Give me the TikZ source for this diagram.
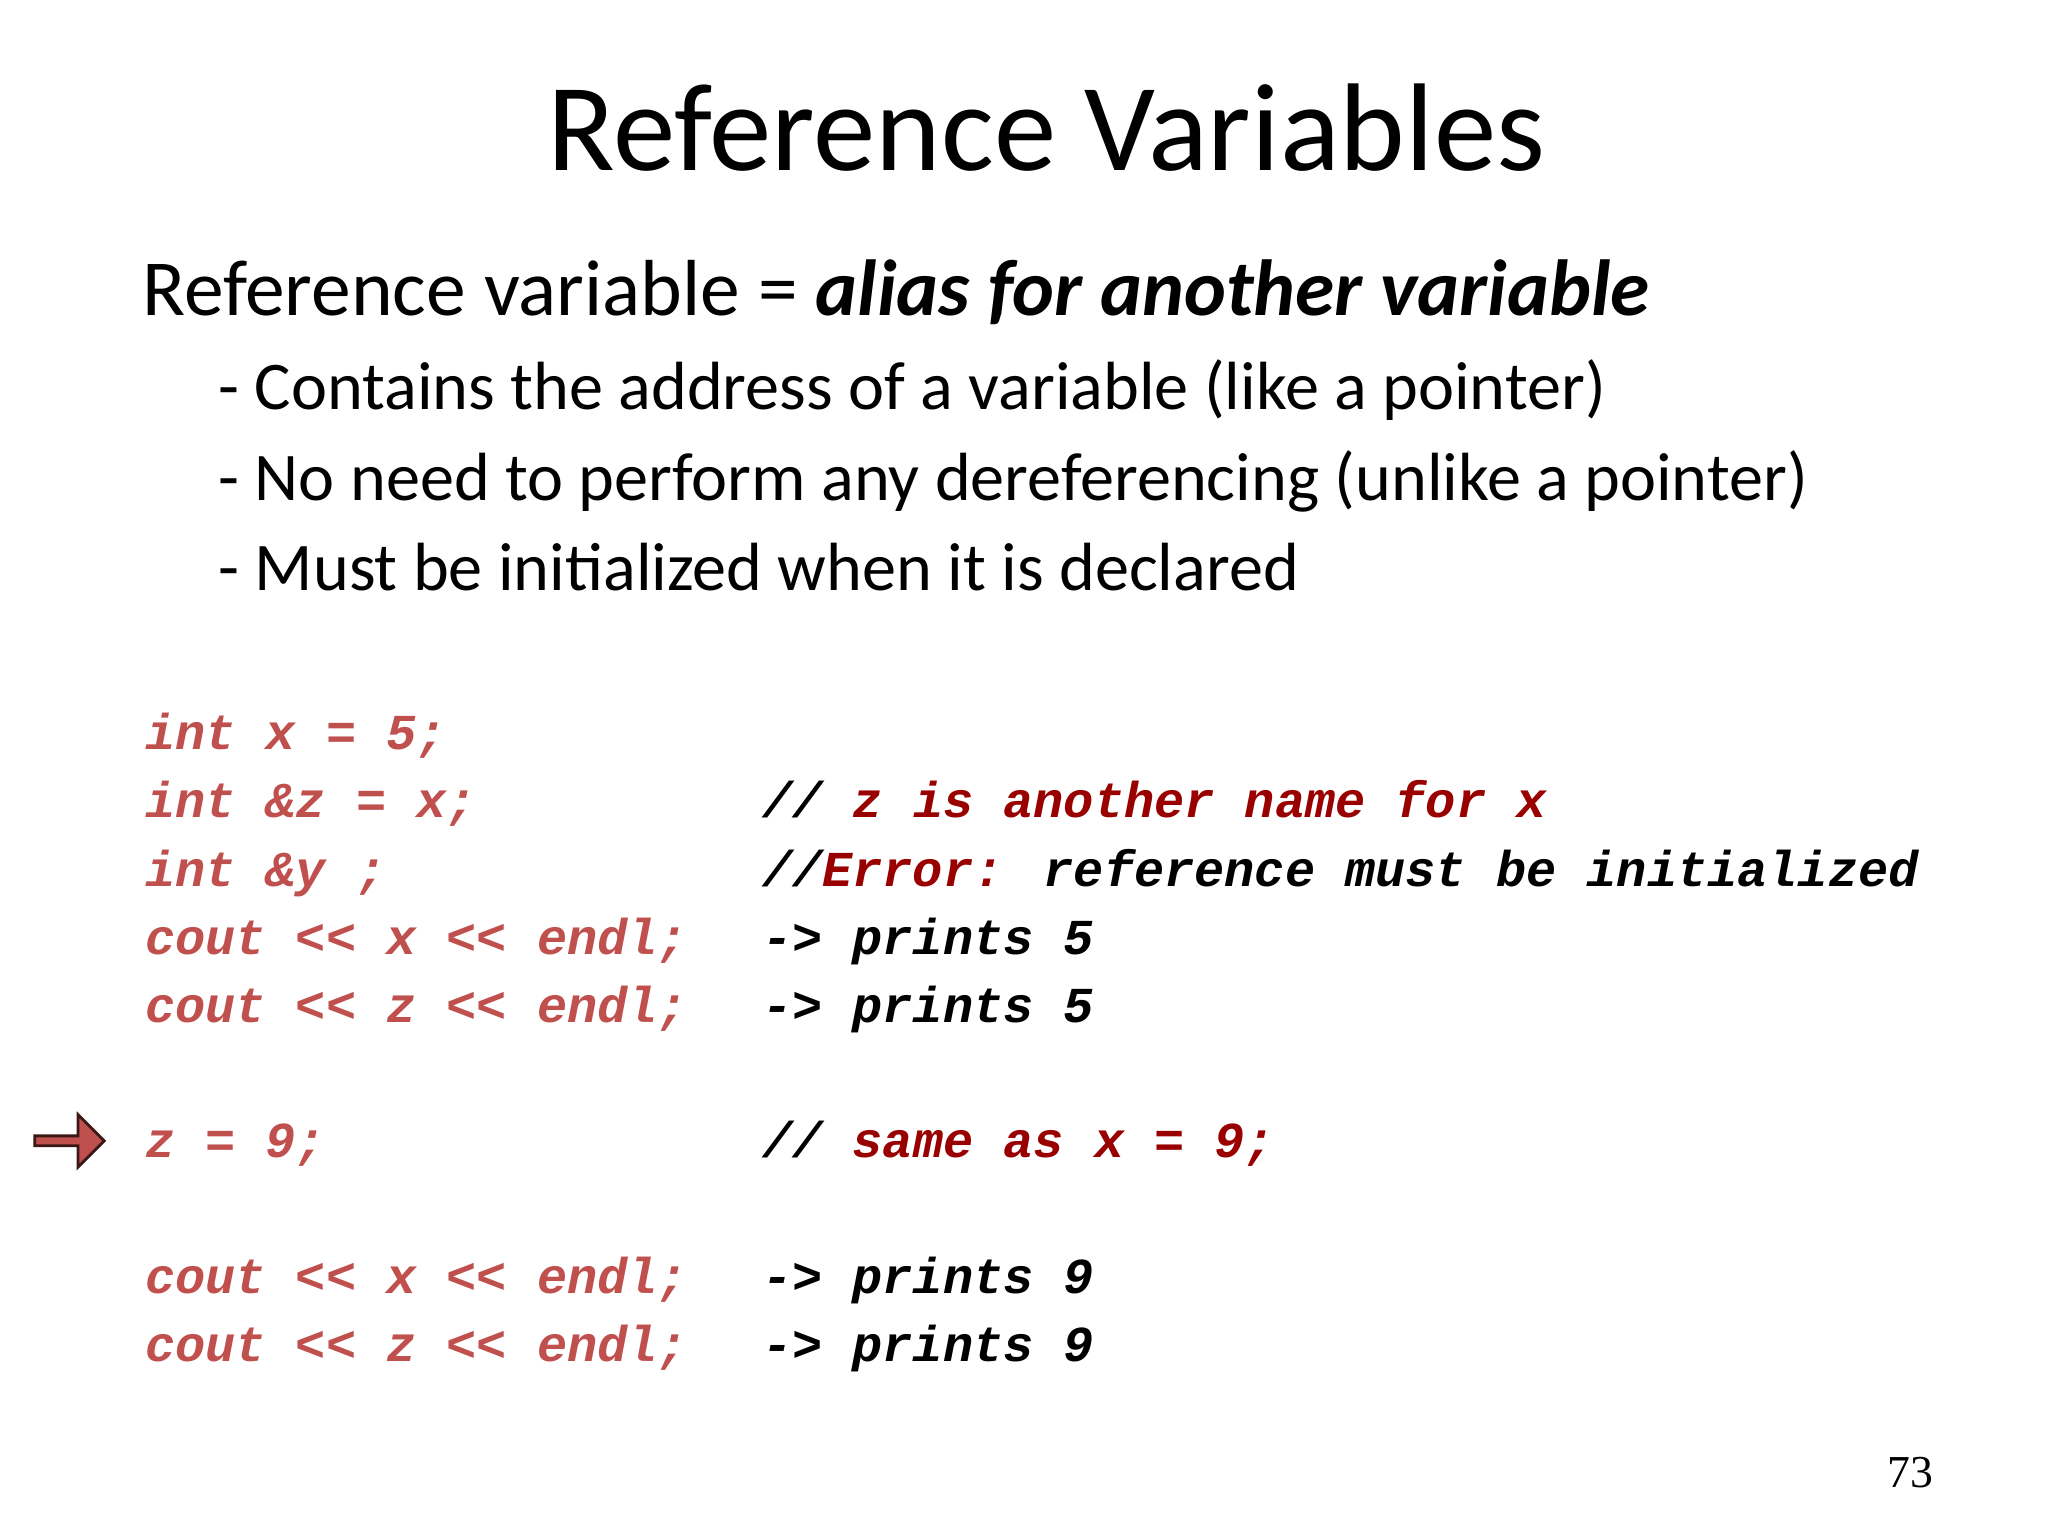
\documentclass[tikz,border=0pt]{standalone}
\usepackage{fontspec}
\setmainfont{Carlito}
\newfontfamily\codefont{Liberation Mono}
\newfontfamily\numfont{Liberation Serif}
\usetikzlibrary{shapes.arrows}
\definecolor{codered}{RGB}{192,80,77}
\definecolor{cmtred}{RGB}{153,0,0}
\tikzset{
  code/.style={anchor=base west,inner sep=0pt,font=\codefont\bfseries\itshape\fontsize{14.3}{16}\selectfont,text=codered},
  cmt/.style={anchor=base west,inner sep=0pt,font=\codefont\bfseries\itshape\fontsize{14.3}{16}\selectfont,text=black},
  bullet/.style={anchor=base west,inner sep=0pt,font=\fontsize{19.4}{24}\selectfont}
}
\begin{document}
\begin{tikzpicture}[x=0.013128cm,y=-0.013128cm]
\useasboundingbox (0,0) rectangle (1560,1170);
\node[inner sep=0pt,anchor=base,font=\fontsize{35.5}{42}\selectfont] (title) at (797,130) {Reference Variables};
\node[anchor=base west,inner sep=0pt,font=\fontsize{22.6}{28}\selectfont] (sub) at (108,240) {Reference variable = \textbf{\textit{alias for another variable}}};
\node[bullet] (b1) at (166,312) {- Contains the address of a variable (like a pointer)};
\node[bullet] (b2) at (166,381) {- No need to perform any dereferencing (unlike a pointer)};
\node[bullet] (b3) at (166,450) {- Must be initialized when it is declared};
\node[code] (c1) at (110,571) {int x = 5;};
\node[code] (c2) at (110,623) {int \&z = x;};
\node[code] (c3) at (110,675) {int \&y ;};
\node[code] (c4) at (110,727) {cout << x << endl;};
\node[code] (c5) at (110,779) {cout << z << endl;};
\node[code] (c6) at (110,882) {z = 9;};
\node[code] (c7) at (110,985) {cout << x << endl;};
\node[code] (c8) at (110,1037) {cout << z << endl;};
\node[cmt] (m2) at (580,623) {// \textcolor{cmtred}{z is another name for x}};
\node[cmt] (m3) at (580,675) {//\textcolor{cmtred}{Error:} reference must be initialized};
\node[cmt] (m4) at (580,727) {-> prints 5};
\node[cmt] (m5) at (580,779) {-> prints 5};
\node[cmt] (m6) at (580,882) {// \textcolor{cmtred}{same as x = 9;}};
\node[cmt] (m7) at (580,985) {-> prints 9};
\node[cmt] (m8) at (580,1037) {-> prints 9};
\node[single arrow,draw=black!70!codered,fill=codered,line width=0.8pt,minimum height=53*0.013128cm,minimum width=40*0.013128cm,single arrow head extend=0.06cm,single arrow head indent=0pt,inner sep=0pt] (arr) at (51,869) {};
\node[anchor=base,inner sep=0pt,font=\numfont\fontsize{13}{16}\selectfont] (pg) at (1455,1133) {73};
\end{tikzpicture}
\end{document}
